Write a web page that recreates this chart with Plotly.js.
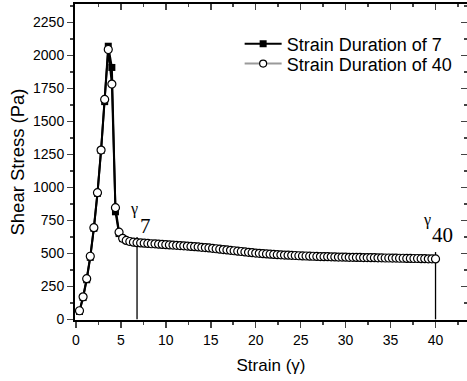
<!DOCTYPE html>
<html>
<head>
<meta charset="utf-8">
<script src="https://cdn.plot.ly/plotly-3.0.1.min.js"></script>
<style>html,body{margin:0;padding:0;background:#fff;}#chart{width:467px;height:381px;}</style>
</head>
<body>
<div id="chart"></div>
<script>
// ---- data ----
var strain7 = [0.4,0.8,1.2,1.6,2.0,2.4,2.8,3.2,3.6,4.0,4.4,4.8,5.2,5.6,6.0,6.4,6.8];
var stress7 = [60,165,300,470,690,955,1280,1650,2070,1909,815,650,612,597,589,584,580];

var strain40 = [0.4,0.8,1.2,1.6,2.0,2.4,2.8,3.2,3.6,4.0,4.4,4.8,5.2,5.6,6.0,6.4,6.8,7.2,7.6,8.0,
  8.4,8.8,9.2,9.6,10.0,10.4,10.8,11.2,11.6,12.0,12.4,12.8,13.2,13.6,14.0,14.4,14.8,15.2,15.6,16.0,
  16.4,16.8,17.2,17.6,18.0,18.4,18.8,19.2,19.6,20.0,20.4,20.8,21.2,21.6,22.0,22.4,22.8,23.2,23.6,24.0,
  24.4,24.8,25.2,25.6,26.0,26.4,26.8,27.2,27.6,28.0,28.4,28.8,29.2,29.6,30.0,30.4,30.8,31.2,31.6,32.0,
  32.4,32.8,33.2,33.6,34.0,34.4,34.8,35.2,35.6,36.0,36.4,36.8,37.2,37.6,38.0,38.4,38.8,39.2,39.6,40.0];
var stress40 = [65,171,308,478,695,960,1283,1667,2045,1783,846,661,614,598,590,585,581,579,577,575,
  573,572,570,568,566,564,563,561,559,557,555,553,551,549,546,544,541,538,535,532,
  529,526,523,520,517,514,511,508,505,502,500,498,496,494,492,490,489,487,486,485,
  484,482,481,480,479,478,477,476,475,475,474,473,472,472,471,470,470,469,469,468,
  468,467,467,466,466,465,465,464,464,463,463,462,462,461,461,460,460,459,459,458];

var seriesNames = ["Strain Duration of 7", "Strain Duration of 40"];
var markStrain = [6.8, 40];
var markTop = [625, 510];
var markLabels = ["7", "40"];

var xTicks = [0,5,10,15,20,25,30,35,40];
var yTicks = [0,250,500,750,1000,1250,1500,1750,2000,2250];

var SANS = "Liberation Sans, Arial, sans-serif";
var SERIF = "Liberation Serif, Times New Roman, serif";

var traces = [];
// vertical marker lines
for (var i = 0; i < markStrain.length; i++) {
  traces.push({x:[markStrain[i], markStrain[i]], y:[0, markTop[i]], mode:'lines',
    line:{color:'#000', width:1.3}, showlegend:false, hoverinfo:'skip'});
}
traces.push({x:strain7, y:stress7, name:seriesNames[0], mode:'lines+markers', legend:'legend',
  line:{color:'#000', width:2}, marker:{symbol:'square', size:7, color:'#000'}});
// plotted circle series (black connecting line)
traces.push({x:strain40, y:stress40, name:seriesNames[1], mode:'lines+markers', showlegend:false,
  line:{color:'#000', width:2}, marker:{symbol:'circle', size:8, color:'#fff', line:{color:'#000', width:1.2}}});
// legend entry for circle series (gray line)
traces.push({x:[null], y:[null], name:seriesNames[1], mode:'lines+markers', legend:'legend2',
  line:{color:'#9a9a9a', width:2}, marker:{symbol:'circle', size:7, color:'#fff', line:{color:'#000', width:1.2}}});
// mirror axes traces (invisible)
traces.push({x:[null], y:[null], xaxis:'x2', yaxis:'y2', showlegend:false, hoverinfo:'skip'});

var annotations = [];
annotations.push({x:markStrain[0], y:markTop[0], text:'γ', showarrow:false, xanchor:'center', yanchor:'middle',
  xshift:-3, yshift:28, font:{family:SERIF, size:16, color:'#000'}});
annotations.push({x:markStrain[0], y:markTop[0], text:markLabels[0], showarrow:false, xanchor:'left', yanchor:'middle',
  xshift:1, yshift:11, font:{family:SERIF, size:21, color:'#000'}});
annotations.push({x:markStrain[1], y:markTop[1], text:'γ', showarrow:false, xanchor:'center', yanchor:'middle',
  xshift:-9, yshift:32, font:{family:SERIF, size:16, color:'#000'}});
annotations.push({x:markStrain[1], y:markTop[1], text:markLabels[1], showarrow:false, xanchor:'left', yanchor:'middle',
  xshift:-6, yshift:17, font:{family:SERIF, size:21, color:'#000'}});

var legendBase = {xanchor:'left', yanchor:'top', bgcolor:'rgba(0,0,0,0)',
  font:{family:SANS, size:18, color:'#000'}, itemwidth:37};

var layout = {
  width:467, height:381,
  margin:{l:75, r:0, t:4, b:61},
  paper_bgcolor:'#fff', plot_bgcolor:'#fff',
  font:{family:SANS, color:'#000'},
  showlegend:true,
  legend:Object.assign({x:0.42, y:0.932}, legendBase),
  legend2:Object.assign({x:0.42, y:0.869}, legendBase),
  xaxis:{range:[-0.1, 43.5], tickvals:xTicks, ticktext:xTicks.map(String), ticks:'outside', ticklen:6, tickwidth:1.5,
    showline:true, linecolor:'#000', linewidth:2, showgrid:false, zeroline:false,
    minor:{dtick:2.5, tick0:0, ticks:'outside', ticklen:3, tickwidth:1.5, showgrid:false},
    tickfont:{family:SANS, size:14, color:'#000'},
    title:{text:'Strain (γ)', font:{family:SANS, size:17, color:'#000'}, standoff:12}},
  yaxis:{range:[-5, 2390], tickvals:yTicks, ticktext:yTicks.map(String), ticks:'outside', ticklen:6, tickwidth:1.5,
    showline:true, linecolor:'#000', linewidth:2, showgrid:false, zeroline:false,
    minor:{dtick:125, tick0:0, ticks:'outside', ticklen:3, tickwidth:1.5, showgrid:false},
    tickfont:{family:SANS, size:14, color:'#000'},
    title:{text:'Shear Stress (Pa)', font:{family:SANS, size:18.5, color:'#000'}, standoff:4}},
  xaxis2:{overlaying:'x', side:'top', matches:'x', range:[-0.1, 43.5], tickvals:xTicks, showticklabels:false,
    ticks:'inside', ticklen:6, tickwidth:1.5, showline:true, linecolor:'#000', linewidth:2, showgrid:false, zeroline:false,
    minor:{dtick:2.5, tick0:0, ticks:'inside', ticklen:3, tickwidth:1.5, showgrid:false}},
  yaxis2:{overlaying:'y', side:'right', range:[-5, 2390], tickvals:yTicks, showticklabels:false,
    ticks:'inside', ticklen:6, tickwidth:1.5, showline:false, showgrid:false, zeroline:false,
    minor:{dtick:125, tick0:0, ticks:'inside', ticklen:3, tickwidth:1.5, showgrid:false}},
  annotations:annotations
};

Plotly.newPlot('chart', traces, layout, {displayModeBar:false, staticPlot:true});
</script>
</body>
</html>
